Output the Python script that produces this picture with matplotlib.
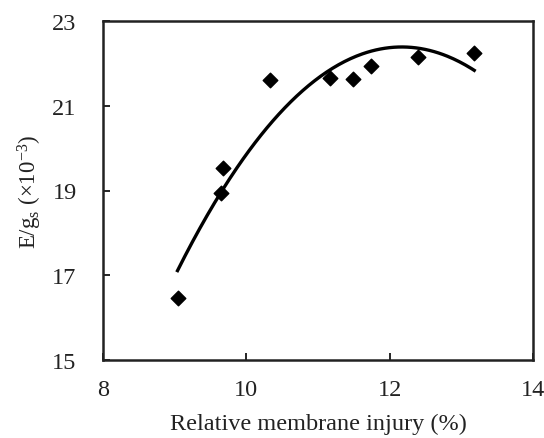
import numpy as np
import matplotlib
matplotlib.use('Agg')
import matplotlib.pyplot as plt

# 数据
injury = [9.04, 9.65, 9.68, 10.33, 11.17, 11.49, 11.74, 12.39, 13.18]
e_gs = [16.47, 18.94, 19.53, 21.61, 21.65, 21.63, 21.94, 22.15, 22.24]

x_ticks = [8, 10, 12, 14]
y_ticks = [15, 17, 19, 21, 23]

plt.rcParams['font.family'] = ['Liberation Serif', 'DejaVu Serif']
plt.rcParams['mathtext.fontset'] = 'custom'
plt.rcParams['mathtext.rm'] = 'Liberation Serif'
plt.rcParams['mathtext.it'] = 'Liberation Serif:italic'

fig = plt.figure(figsize=(5.44, 4.39), dpi=100)
ax = fig.add_axes([103 / 544, 1 - 361 / 439, 430 / 544, 339 / 439])

# 二次趋势线
coef = np.polyfit(injury, e_gs, 2)
xs = np.linspace(min(injury), max(injury), 200)
ax.plot(xs, np.polyval(coef, xs), color='black', linewidth=2.4, zorder=2)

ax.scatter(injury, e_gs, marker='D', s=55, color='black', zorder=3)

ax.set_xlim(8, 14)
ax.set_ylim(15, 23)
ax.set_xticks(x_ticks)
ax.set_yticks(y_ticks)
ax.tick_params(direction='in', length=5, width=1.2, labelsize=17.5, labelcolor='#222222')
ax.tick_params(axis='x', pad=14)
ax.tick_params(axis='y', pad=19)
for s in ax.spines.values():
    s.set_linewidth(1.8)
    s.set_color('#222222')

ax.set_xlabel('Relative membrane injury (%)', fontsize=17.5, labelpad=9, color='#222222')
ax.set_ylabel(r'E/g$_{\mathrm{s}}$ (×10$^{\mathrm{-3}}$)', fontsize=16.5, labelpad=6, color='#222222')

plt.savefig('out.png', dpi=100)
